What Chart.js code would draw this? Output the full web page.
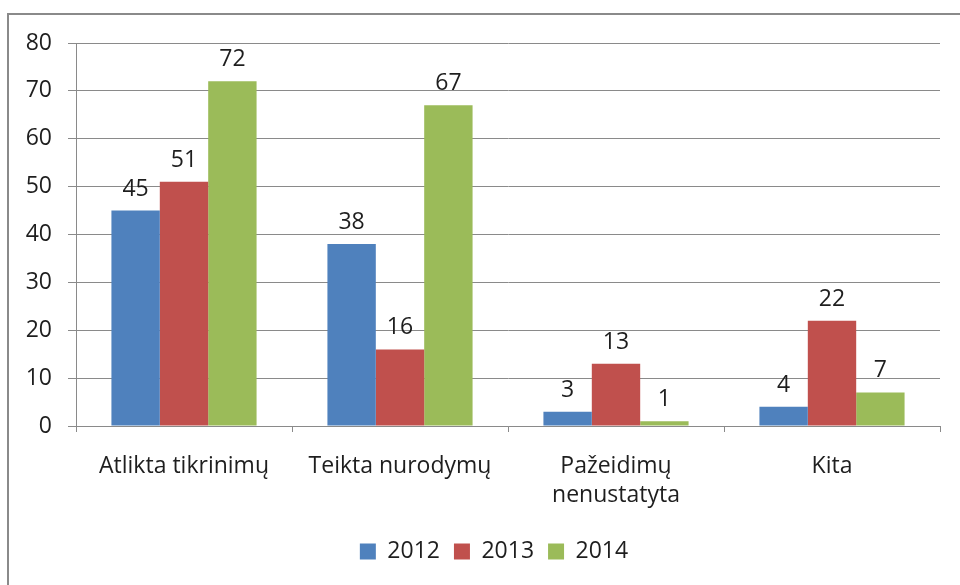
<!DOCTYPE html>
<html>
<head>
<meta charset="utf-8">
<script src="https://cdn.jsdelivr.net/npm/chart.js@4"></script>
<style>
  html, body { margin: 0; padding: 0; background: #fff; }
  #wrap { width: 960px; height: 585px; }
</style>
</head>
<body>
<div id="wrap"><canvas id="kontrole"></canvas></div>
<script>
const categories = ['Atlikta tikrinimų', 'Teikta nurodymų', ['Pažeidimų', 'nenustatyta'], 'Kita'];
const values2012 = [45, 38, 3, 4];
const values2013 = [51, 16, 13, 22];
const values2014 = [72, 67, 1, 7];
const yTicks = [0, 10, 20, 30, 40, 50, 60, 70, 80];

const FONT = 'Open Sans';
const FSIZE = 23;

// frame around the chart, like the spreadsheet chart border
const framePlugin = {
    id: 'frame',
    beforeDraw(chart) {
        const ctx = chart.ctx;
        ctx.save();
        ctx.strokeStyle = '#8a8a8a';
        ctx.lineWidth = 2;
        ctx.strokeRect(8, 14, 1000, 1000);
        ctx.restore();
    }
};

// legend sits a bit right of centre in the original
const legendShift = {
    id: 'legendShift',
    afterLayout(chart) {
        if (chart.legend) {
            chart.legend.left += 19;
            chart.legend.right += 19;
        }
    }
};

// value labels above each bar
const valueLabels = {
    id: 'valueLabels',
    afterDatasetsDraw(chart) {
        const ctx = chart.ctx;
        ctx.save();
        ctx.font = FSIZE + 'px "' + FONT + '"';
        ctx.fillStyle = '#1e1e1e';
        ctx.textAlign = 'center';
        ctx.textBaseline = 'alphabetic';
        chart.data.datasets.forEach((ds, i) => {
            chart.getDatasetMeta(i).data.forEach((bar, j) => {
                ctx.fillText(ds.data[j], bar.x, bar.y - 15);
            });
        });
        ctx.restore();
    }
};

new Chart(document.getElementById('kontrole'), {
    type: 'bar',
    data: {
        labels: categories,
        datasets: [
            { label: '2012', data: values2012, backgroundColor: '#4f81bd' },
            { label: '2013', data: values2013, backgroundColor: '#c0504d' },
            { label: '2014', data: values2014, backgroundColor: '#9bbb59' }
        ]
    },
    options: {
        responsive: true,
        maintainAspectRatio: false,
        animation: false,
        datasets: {
            bar: { categoryPercentage: 0.672, barPercentage: 1.0 }
        },
        layout: { padding: { top: 43, right: 20, bottom: 12, left: 10 } },
        plugins: {
            legend: {
                position: 'bottom',
                labels: {
                    font: { family: FONT, size: FSIZE },
                    color: '#1e1e1e',
                    boxWidth: 16,
                    boxHeight: 16,
                    padding: 14
                }
            },
            tooltip: { enabled: false }
        },
        scales: {
            x: {
                afterFit(scale) { scale.height = 100; },
                grid: {
                    offset: true,
                    drawOnChartArea: false,
                    drawTicks: true,
                    tickLength: 6,
                    color: '#8a8a8a'
                },
                border: { color: '#8a8a8a', width: 1 },
                ticks: {
                    font: { family: FONT, size: FSIZE, lineHeight: 1.27 },
                    color: '#1e1e1e',
                    padding: 20,
                    maxRotation: 0,
                    autoSkip: false
                }
            },
            y: {
                min: 0,
                max: 80,
                afterFit(scale) { scale.width = 66; },
                afterBuildTicks(scale) { scale.ticks = yTicks.map(v => ({ value: v })); },
                grid: {
                    color: '#8a8a8a',
                    tickLength: 8
                },
                border: { color: '#8a8a8a', width: 1 },
                ticks: {
                    font: { family: FONT, size: FSIZE },
                    color: '#1e1e1e',
                    padding: 16
                }
            }
        }
    },
    plugins: [framePlugin, legendShift, valueLabels]
});
</script>
</body>
</html>
